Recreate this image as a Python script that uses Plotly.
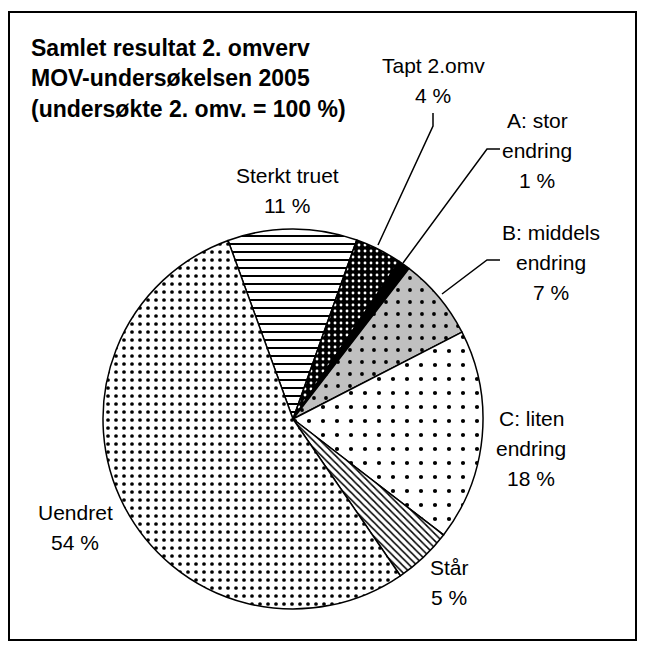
"""
Kakediagram: Samlet resultat 2. omverv, MOV-undersøkelsen 2005
"""
import plotly.graph_objects as go

# Siden har 8 px marg i body, så figuren gjøres litt mindre og forskyves
OFF = 8
W, H = 645 - OFF, 648 - OFF

# Data
categories = ['Sterkt truet', 'Tapt 2.omv', 'A: stor endring', 'B: middels endring',
              'C: liten endring', 'Står', 'Uendret']
values = [11, 4, 1, 7, 18, 5, 54]
label_lines = [
    ['Sterkt truet', '11 %'],
    ['Tapt 2.omv', '4 %'],
    ['A: stor', 'endring', '1 %'],
    ['B: middels', 'endring', '7 %'],
    ['C: liten', 'endring', '18 %'],
    ['Står', '5 %'],
    ['Uendret', '54 %'],
]
title_lines = ['Samlet resultat 2. omverv',
               'MOV-undersøkelsen 2005',
               '(undersøkte 2. omv. = 100 %)']

# Mønstre per sektor
pattern_shape = ['-', '.', '', '.', '.', '\\', '.']
pattern_fg = ['black', 'white', 'black', 'black', 'black', 'black', 'black']
pattern_bg = ['white', 'black', 'black', '#c0c0c0', 'white', 'white', 'white']
pattern_size = [8, 6, 6, 12, 14, 5, 8]
pattern_solid = [0.25, 0.18, 0.5, 0.08, 0.07, 0.3, 0.17]


def px(x):
    return (x - OFF) / W


def py(y):
    return 1 - (y - OFF) / H


# Kakens plassering (piksler i skjermbildet)
cx, cy, r = 293, 419, 190

fig = go.Figure(go.Pie(
    labels=categories,
    values=values,
    sort=False,
    direction='clockwise',
    rotation=340,
    textinfo='none',
    hovertemplate='%{label}: %{percent}<extra></extra>',
    showlegend=False,
    marker=dict(
        colors=pattern_bg,
        line=dict(color='black', width=1.5),
        pattern=dict(
            shape=pattern_shape,
            fgcolor=pattern_fg,
            bgcolor=pattern_bg,
            size=pattern_size,
            solidity=pattern_solid,
            fillmode='replace',
        ),
    ),
    domain=dict(x=[px(cx - r), px(cx + r)], y=[py(cy + r), py(cy - r)]),
))

annotations = []
font = dict(family='Liberation Sans, Arial, sans-serif', size=21, color='black')

# Tittel
for i, line in enumerate(title_lines):
    annotations.append(dict(
        x=px(29), y=py(48 + i * 30.5), xref='paper', yref='paper',
        text='<b>%s</b>' % line, showarrow=False, xanchor='left', yanchor='middle',
        font=dict(family='Liberation Sans, Arial, sans-serif', size=23, color='black'),
    ))

# Etiketter (senter av første linje)
label_pos = [(287, 175), (433, 65), (537, 121), (551, 232), (531, 418), (449, 567), (75, 512)]
for lines, (lx, ly) in zip(label_lines, label_pos):
    for j, line in enumerate(lines):
        annotations.append(dict(
            x=px(lx), y=py(ly + j * 30), xref='paper', yref='paper',
            text=line, showarrow=False, xanchor='center', yanchor='middle', font=font,
        ))

# Ledelinjer
leaders = [
    [(433, 113), (433, 126), (378, 245)],
    [(500, 149), (487, 149), (403, 263)],
    [(500, 260), (487, 260), (442, 294)],
]
shapes = []
for pts in leaders:
    path = 'M %f %f ' % (px(pts[0][0]), py(pts[0][1]))
    path += ' '.join('L %f %f' % (px(x), py(y)) for x, y in pts[1:])
    shapes.append(dict(type='path', xref='paper', yref='paper', path=path,
                       line=dict(color='black', width=1.5)))

# Ramme
shapes.append(dict(type='rect', xref='paper', yref='paper',
                   x0=px(9), x1=px(636), y0=py(640), y1=py(12),
                   line=dict(color='black', width=2)))

fig.update_layout(
    width=W, height=H,
    margin=dict(l=0, r=0, t=0, b=0),
    paper_bgcolor='white',
    plot_bgcolor='white',
    annotations=annotations,
    shapes=shapes,
)

fig.write_html('out.html')
